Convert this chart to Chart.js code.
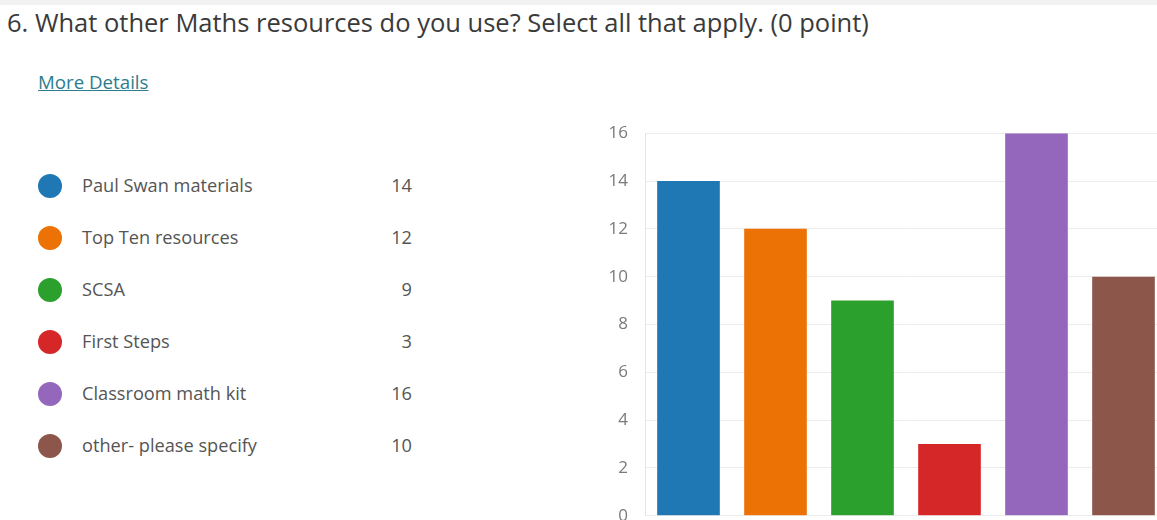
<!DOCTYPE html>
<html>
<head>
<meta charset="utf-8">
<script src="https://cdn.jsdelivr.net/npm/chart.js@4"></script>
<style>
  html, body { margin: 0; padding: 0; width: 1157px; height: 520px; overflow: hidden; background: #fff; font-family: "Open Sans", "Noto Sans", sans-serif; }
  #topband { position: absolute; left: 0; top: 0; width: 1157px; height: 5px; background: #f2f2f2; }
  #title { position: absolute; left: 7px; top: 5px; font-size: 25.5px; color: #3a3a3a; white-space: nowrap; }
  #more { position: absolute; left: 38px; top: 69px; font-size: 18.7px; color: #2b7d8c; text-decoration: underline; }
  #legend { position: absolute; left: 38px; top: 174px; }
  .row { position: relative; height: 52px; width: 374px; }
  .dot { position: absolute; left: 0; top: 0; width: 24px; height: 24px; border-radius: 50%; }
  .lab { position: absolute; left: 44px; top: -1px; font-size: 18.2px; color: #555; white-space: nowrap; }
  .num { position: absolute; right: 0; top: -1px; font-size: 18.2px; color: #555; }
  #wrap { position: absolute; left: 600px; top: 106px; width: 580px; height: 437px; }
</style>
</head>
<body>
<div id="topband"></div>
<div id="title">6. What other Maths resources do you use? Select all that apply. (0 point)</div>
<div id="more">More Details</div>
<div id="legend"></div>
<div id="wrap"><canvas id="myChart"></canvas></div>
<script>
let labels = ['Paul Swan materials', 'Top Ten resources', 'SCSA', 'First Steps', 'Classroom math kit', 'other- please specify'];
let counts = [14, 12, 9, 3, 16, 10];
let colorHex = ['#1f77b4', '#ed7206', '#2ca02c', '#d62728', '#9467bd', '#8c564b'];
let yTicks = [0, 2, 4, 6, 8, 10, 12, 14, 16];

// legend list on the left
let legend = document.getElementById('legend');
labels.forEach((name, i) => {
  let row = document.createElement('div');
  row.className = 'row';
  row.innerHTML = '<div class="dot" style="background:' + colorHex[i] + '"></div>' +
    '<div class="lab">' + name + '</div><div class="num">' + counts[i] + '</div>';
  legend.appendChild(row);
});

let ctx = document.getElementById('myChart').getContext('2d');
let myChart = new Chart(ctx, {
  type: 'bar',
  data: {
    labels: labels,
    datasets: [{
      data: counts,
      backgroundColor: colorHex,
      categoryPercentage: 1,
      barPercentage: 0.72
    }]
  },
  options: {
    responsive: true,
    maintainAspectRatio: false,
    animation: false,
    layout: { padding: { top: 20, bottom: 5, right: 13, left: 0 } },
    plugins: {
      legend: { display: false },
      tooltip: { enabled: false }
    },
    scales: {
      x: { display: false },
      y: {
        min: 0,
        max: 16,
        afterFit: (scale) => { scale.width = 45; },
        afterBuildTicks: (scale) => { scale.ticks = yTicks.map(v => ({ value: v })); },
        grid: { color: '#ececec', drawTicks: false },
        border: { color: '#e4e4e4' },
        ticks: {
          padding: 17,
          color: '#7a7a7a',
          font: { size: 17, family: 'Open Sans' }
        }
      }
    }
  }
});
</script>
</body>
</html>
